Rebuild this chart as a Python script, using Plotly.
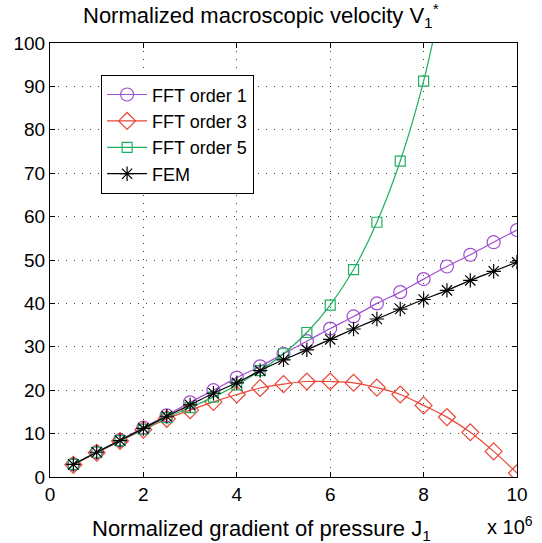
import plotly.graph_objects as go

x_vals = [0.5, 1, 1.5, 2, 2.5, 3, 3.5, 4, 4.5, 5, 5.5, 6, 6.5, 7, 7.5, 8, 8.5, 9, 9.5, 10]
fft1 = [2.9, 5.7, 8.5, 11.4, 14.2, 17.2, 20.0, 22.9, 25.5, 28.4, 31.3, 34.2, 37.0, 40.0, 42.6, 45.6, 48.5, 51.2, 54.1, 56.9]
fft3 = [2.8, 5.6, 8.3, 10.9, 13.4, 15.4, 17.3, 19.0, 20.5, 21.4, 22.0, 22.0, 21.7, 20.6, 19.0, 16.5, 13.8, 10.3, 5.9, 0.9]
x5 = [0.5, 1, 1.5, 2, 2.5, 3, 3.5, 4, 4.5, 5, 5.5, 6, 6.5, 7, 7.5, 8, 8.5]
fft5 = [2.9, 5.7, 8.4, 11.0, 13.7, 16.0, 18.4, 21.2, 24.5, 28.4, 33.3, 39.6, 47.8, 58.7, 72.8, 91.2, 116.0]
fem = [2.9, 5.7, 8.4, 11.2, 14.0, 16.6, 19.3, 21.7, 24.5, 27.0, 29.3, 31.7, 34.1, 36.4, 38.7, 40.9, 43.0, 45.3, 47.4, 49.5]

x_ticks = [0, 2, 4, 6, 8, 10]
y_ticks = [0, 10, 20, 30, 40, 50, 60, 70, 80, 90, 100]

FONT = "Liberation Sans, Arial, sans-serif"
purple = "#a04fcf"
red = "#ea4535"
green = "#1fae60"

fig = go.Figure()
fig.add_trace(go.Scatter(x=x_vals, y=fft1, name="FFT order 1", mode="lines+markers",
                         line=dict(color=purple, width=1.2, shape="spline"),
                         marker=dict(symbol="circle-open", size=13, color=purple, line=dict(width=1.2))))
fig.add_trace(go.Scatter(x=x_vals, y=fft3, name="FFT order 3", mode="lines+markers",
                         line=dict(color=red, width=1.2, shape="spline"),
                         marker=dict(symbol="diamond-open", size=13, color=red, line=dict(width=1.2))))
fig.add_trace(go.Scatter(x=x5, y=fft5, name="FFT order 5", mode="lines+markers",
                         line=dict(color=green, width=1.2, shape="spline"),
                         marker=dict(symbol="square-open", size=10, color=green, line=dict(width=1.2))))
fig.add_trace(go.Scatter(x=x_vals, y=fem, name="FEM", mode="lines+markers",
                         line=dict(color="black", width=1.2, shape="spline"),
                         marker=dict(symbol="asterisk-open", size=12, color="black", line=dict(width=1.2, color="black"))))

axis_common = dict(
    showline=True, linecolor="black", linewidth=1.2, mirror="ticks",
    ticks="inside", ticklen=5, tickcolor="black",
    showgrid=True, gridcolor="#444444", griddash="1px,7px", gridwidth=1,
    zeroline=False, tickfont=dict(family=FONT, size=19, color="black"),
)

fig.update_xaxes(range=[0, 10], tickvals=x_ticks, ticktext=[str(t) for t in x_ticks], **axis_common)
fig.update_yaxes(range=[0, 100], tickvals=y_ticks, ticktext=[str(t) for t in y_ticks], **axis_common)

fig.update_layout(
    width=542, height=543,
    margin=dict(l=50, r=25, t=43, b=66),
    plot_bgcolor="white", paper_bgcolor="white",
    font=dict(family=FONT, color="black"),
    showlegend=True,
    legend=dict(x=0.109, y=0.926, xanchor="left", yanchor="top",
                bgcolor="white", bordercolor="black", borderwidth=1.2,
                font=dict(family=FONT, size=18, color="black"),
                tracegroupgap=0, itemwidth=40),
    annotations=[
        dict(text="Normalized macroscopic velocity V<sub>1</sub><sup>*</sup>", xref="paper", yref="paper",
             x=0.452, y=1.063, xanchor="center", yanchor="middle", showarrow=False,
             font=dict(family=FONT, size=22, color="black")),
        dict(text="Normalized gradient of pressure J<sub>1</sub>", xref="paper", yref="paper",
             x=0.452, y=-0.122, xanchor="center", yanchor="middle", showarrow=False,
             font=dict(family=FONT, size=22, color="black")),
        dict(text="x 10<sup>6</sup>", xref="paper", yref="paper",
             x=0.985, y=-0.112, xanchor="center", yanchor="middle", showarrow=False,
             font=dict(family=FONT, size=20, color="black")),
    ],
)

fig.write_html("out.html", config={"displayModeBar": False},
               post_script="document.body.style.margin='0px';")
